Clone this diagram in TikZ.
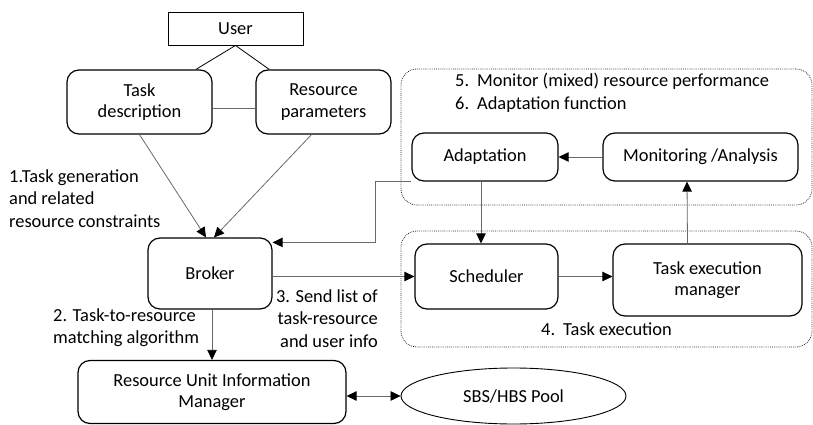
\documentclass[tikz,border=0pt]{standalone}
\usepackage{fontspec}
\setmainfont{Carlito}
\usetikzlibrary{arrows.meta,calc,shapes.geometric}
\newcommand\dfont{\fontsize{18.4}{21.5}\selectfont}
\newcommand\lfont{\fontsize{18.4}{22.5}\selectfont}
\definecolor{conn}{RGB}{105,105,105}
\begin{document}
\begin{tikzpicture}[x=1pt,y=-1pt,
  box/.style={draw, line width=1.2pt, rounded corners=12pt, inner sep=0pt, align=center, font=\dfont},
  plainbox/.style={draw, line width=0.9pt, inner sep=0pt, font=\dfont},
  poolshape/.style={draw, ellipse, line width=0.9pt, inner sep=0pt, font=\dfont},
  grp/.style={draw=black!85, dash pattern=on 0.8pt off 1.1pt, line width=0.8pt, rounded corners=16pt, inner sep=0pt},
  lbl/.style={inner sep=0pt, font=\lfont},
  ln/.style={draw=black, line width=0.8pt},
  lng/.style={draw=conn, line width=0.8pt},
  arr/.style={draw=conn, line width=0.8pt, -{Triangle[length=10pt,width=9.5pt,color=black]}},
  dbl/.style={draw=conn, line width=0.8pt, {Triangle[length=10pt,width=9.5pt,color=black]}-{Triangle[length=10pt,width=9.5pt,color=black]}}
]
\useasboundingbox (0,0) rectangle (813,425);

% group regions
\node[grp, minimum width=411pt, minimum height=136pt] (g1) at (606.5,137) {};
\node[grp, minimum width=411pt, minimum height=116pt] (g2) at (606.5,289) {};

% boxes
\node[plainbox, minimum width=135pt, minimum height=33pt] (user) at (235.5,28.5) {User};
\node[box, minimum width=145pt, minimum height=64pt] (td) at (139.5,102) {Task\\description};
\node[box, minimum width=135pt, minimum height=64pt] (rp) at (323.5,102) {Resource\\parameters};
\node[box, minimum width=124pt, minimum height=71pt] (broker) at (210,273.5) {Broker};
\node[box, minimum width=268pt, minimum height=63pt] (ruim) at (212,392) {Resource Unit Information\\Manager};
\node[box, minimum width=146pt, minimum height=48pt] (ad) at (485,157) {Adaptation};
\node[box, minimum width=195pt, minimum height=48pt] (mon) at (700.5,157) {Monitoring /Analysis};
\node[box, minimum width=143pt, minimum height=65pt] (sched) at (486.5,276.5) {Scheduler};
\node[box, minimum width=189pt, minimum height=72pt] (tem) at (707.5,280) {Task execution\\manager};
\node[poolshape, minimum width=225pt, minimum height=56pt] (pool) at (513.5,396) {SBS/HBS Pool};

% labels
\node[lbl, anchor=base west] (l1) at (9,182) {\begin{tabular}[t]{@{}l@{}}1.Task generation\\and related\\resource constraints\end{tabular}};
\node[lbl, anchor=base west] (l2) at (53,321) {\begin{tabular}[t]{@{}l@{}}2. Task-to-resource\\matching algorithm\end{tabular}};
\node[lbl, anchor=base east] (l3) at (378,302) {\begin{tabular}[t]{@{}r@{}}3. Send list of\\task-resource\\and user info\end{tabular}};
\node[lbl, anchor=base west] (l5) at (455,87) {\begin{tabular}[t]{@{}l@{\hspace{8pt}}l@{}}5.&Monitor (mixed) resource performance\\6.&Adaptation function\end{tabular}};
\node[lbl, anchor=base west] (l4) at (541,335) {\begin{tabular}[t]{@{}l@{\hspace{8pt}}l@{}}4.&Task execution\end{tabular}};

% connectors
\draw[ln] (user.south) -- (td.30);
\draw[ln] (user.south) -- (rp.149);
\draw[lng] ($(td.east)+(0,6)$) -- ($(rp.west)+(0,6)$);
\draw[arr] (td.south) -- ($(broker.north)+(-4,0)$);
\draw[arr] ($(rp.south)+(-12,0)$) -- ($(broker.north)+(4,0)$);
\draw[arr] (ad.south west) -- ++(-36,0) |- ($(broker.north east)+(0,5)$);
\draw[arr] ($(ad.south)+(-4,0)$) -- ($(sched.north)+(-5.5,0)$);
\draw[arr] ($(tem.north)+(-20,0)$) -- ($(mon.south)+(-13.5,0)$);
\draw[arr] (mon.west) -- (ad.east);
\draw[arr] (sched.west -| broker.east) -- (sched.west);
\draw[arr] (sched.east) -- (sched.east -| tem.west);
\draw[arr] (ruim.north |- broker.south) -- (ruim.north);
\draw[dbl] (pool.west -| ruim.east) -- (pool.west);
\end{tikzpicture}
\end{document}
